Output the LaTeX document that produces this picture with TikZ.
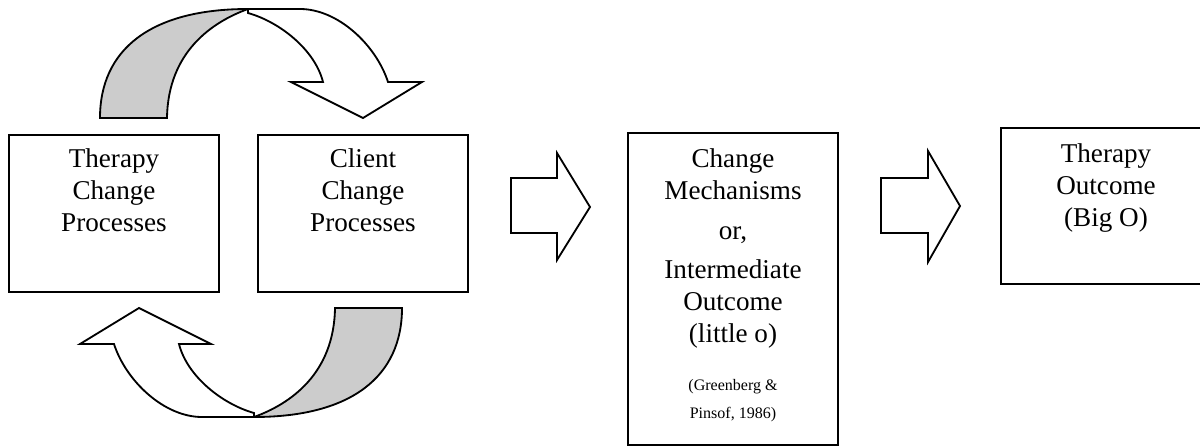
\documentclass[tikz,border=0pt]{standalone}
\usepackage{fontspec}
\setmainfont{Liberation Serif}

% one twisted curved arrow, drawn in pixel units
\newcommand{\curvedband}{%
	\draw[bandback] (100,118) .. controls (100,50) and (150,9) .. (248,9)
		.. controls (212,22) and (168,52) .. (167,118) -- cycle;
	\draw[bandfront] (248,9) -- (300,9) .. controls (338,9) and (376,45) .. (388,82)
		-- (422,82) -- (363,118) -- (291,82) -- (323,82)
		.. controls (315,50) and (280,22) .. (248,13) -- cycle;
}

\begin{document}
\begin{tikzpicture}[x=0.025cm, y=-0.025cm,
	procbox/.style={draw, line width=1.3pt, minimum width=5.25cm, inner sep=0pt},
	boxtext/.style={anchor=north, align=center, inner sep=0pt, font=\fontsize{19.3}{22.7}\selectfont},
	citetext/.style={anchor=north, align=center, inner sep=0pt, font=\fontsize{11.4}{19.8}\selectfont},
	blockarrow/.style={draw, line width=1.3pt, fill=white, line join=miter},
	bandback/.style={draw, line width=1.3pt, fill=black!20},
	bandfront/.style={draw, line width=1.3pt, fill=white}]

	\useasboundingbox (0,0) rectangle (1200,447);
	\clip (0,0) rectangle (1200,447);

		\node[procbox, minimum height=3.925cm] (therapybox) at (114,213.5) {};
		\node[procbox, minimum height=3.925cm] (clientbox) at (363,213.5) {};
		\node[procbox, minimum height=7.8cm] (mechbox) at (733,289) {};
		\node[procbox, minimum height=3.9cm] (outcomebox) at (1106,206) {};

		\node[boxtext] (therapytext) at (114,148.6) {Therapy\\Change\\Processes};
		\node[boxtext] (clienttext) at (363,148.6) {Client\\Change\\Processes};
		\node[boxtext] (mechtext) at (733,148.6)
			{Change\\Mechanisms\\[5.7pt]or,\\[5pt]Intermediate\\Outcome\\(little o)};
		\node[citetext] (citation) at (733,379.5) {(Greenberg \&\\Pinsof, 1986)};
		\node[boxtext] (outcometext) at (1106,143.6) {Therapy\\Outcome\\(Big O)};

		% block arrows
		\draw[blockarrow] (511,178) -- (557,178) -- (557,153) -- (590,207)
			-- (557,260) -- (557,233) -- (511,233) -- cycle;
		\draw[blockarrow] (881,178) -- (928,178) -- (928,151) -- (960,206)
			-- (928,262) -- (928,233) -- (881,233) -- cycle;

		% the loop between the two process boxes
		\curvedband
		\begin{scope}[rotate around={180:(251,213)}]
			\curvedband
		\end{scope}

\end{tikzpicture}
\end{document}
